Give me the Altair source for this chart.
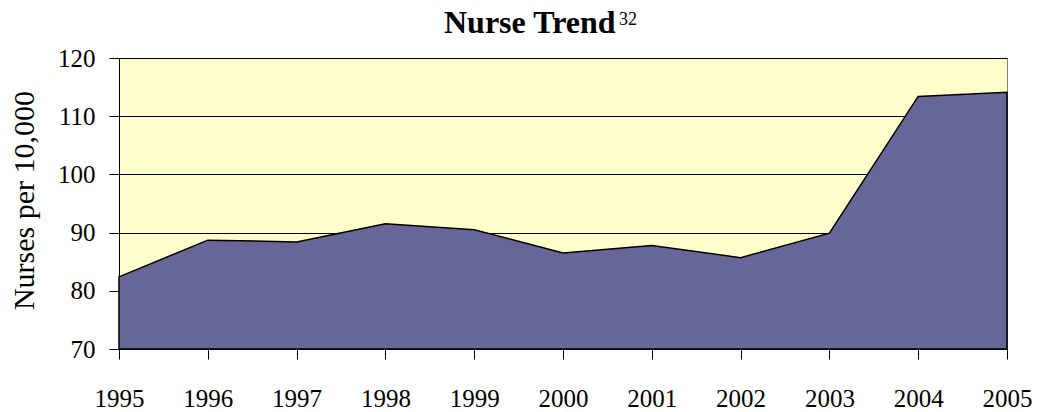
import altair as alt
import pandas as pd

years = [1995, 1996, 1997, 1998, 1999, 2000, 2001, 2002, 2003, 2004, 2005]
nurses = [82.4, 88.7, 88.4, 91.5, 90.5, 86.5, 87.8, 85.7, 89.9, 113.4, 114.1]
y_ticks = [70, 80, 90, 100, 110, 120]

df = pd.DataFrame({"year": years, "nurses": nurses})
FONT = "Liberation Serif"

x = alt.X("year:Q", scale=alt.Scale(domain=[1995, 2005], nice=False, zero=False),
          axis=alt.Axis(values=years, format="d", title=None, grid=False,
                        labelFont=FONT, labelFontSize=25, labelColor="black",
                        labelBaseline="alphabetic", labelPadding=47,
                        tickSize=10, tickColor="black",
                        domainColor="black", labelFlush=False))
y = alt.Y("nurses:Q", scale=alt.Scale(domain=[70, 120], nice=False, zero=False),
          axis=alt.Axis(values=y_ticks, title="Nurses per 10,000", grid=True,
                        gridColor="black", gridWidth=1,
                        labelFont=FONT, labelFontSize=25, labelColor="black",
                        labelPadding=14, tickSize=10, tickColor="black",
                        domainColor="black", titleFont=FONT, titleFontSize=30,
                        titleFontWeight="normal", titleColor="black",
                        titleAngle=270, titleAlign="center",
                        titleBaseline="alphabetic", titleX=-86, titleY=142))

area = alt.Chart(df).mark_area(color="#666699", stroke="black", strokeWidth=1.5,
                               strokeJoin="miter").encode(x=x, y=y, y2=alt.datum(70))

title = alt.Chart(alt.Data(values=[{"t": "Nurse Trend"}])).mark_text(
    font=FONT, fontSize=32, fontWeight="bold", align="left", baseline="alphabetic",
    color="black").encode(text="t:N", x=alt.value(325), y=alt.value(-25))
sup = alt.Chart(alt.Data(values=[{"t": "32"}])).mark_text(
    font=FONT, fontSize=18, align="left", baseline="alphabetic",
    color="black").encode(text="t:N", x=alt.value(500), y=alt.value(-33))

chart = alt.layer(area, title, sup).properties(
    width=888, height=291,
    autosize=alt.AutoSizeParams(type="none"),
    padding={"left": 111, "top": 50, "right": 25, "bottom": 63},
    background="white",
).configure_view(fill="#FFFFCC", stroke="#808080", strokeWidth=1)

chart.save("out.html", embed_options={"renderer": "svg", "actions": False})
